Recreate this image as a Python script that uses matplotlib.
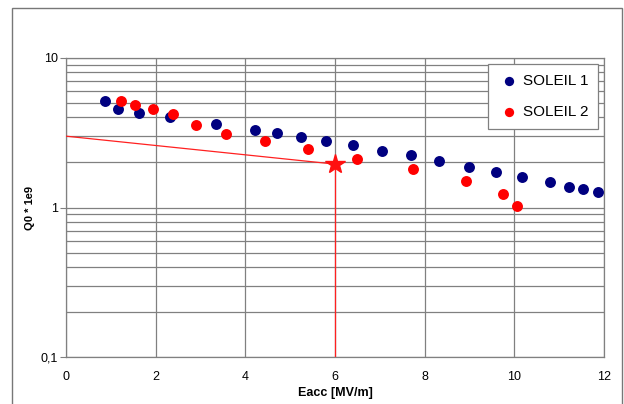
import numpy as np
import matplotlib.pyplot as plt
from matplotlib.patches import Rectangle
from matplotlib.ticker import FixedLocator, FixedFormatter, LogLocator, NullFormatter

plt.rcParams['font.family'] = ['Liberation Sans', 'DejaVu Sans']

# SOLEIL 1
e1 = [0.87, 1.15, 1.63, 2.33, 3.34, 4.21, 4.71, 5.24, 5.81, 6.40,
      7.05, 7.69, 8.32, 8.99, 9.59, 10.17, 10.80, 11.21, 11.53, 11.86]
q1 = [5.16, 4.58, 4.26, 4.01, 3.64, 3.28, 3.13, 2.95, 2.77, 2.62,
      2.39, 2.23, 2.06, 1.88, 1.74, 1.61, 1.47, 1.37, 1.33, 1.26]
# SOLEIL 2
e2 = [1.23, 1.54, 1.93, 2.39, 2.89, 3.57, 4.43, 5.40, 6.48, 7.75,
      8.92, 9.75, 10.05]
q2 = [5.16, 4.83, 4.54, 4.20, 3.55, 3.10, 2.79, 2.45, 2.10, 1.81,
      1.51, 1.24, 1.02]
# spec point
line_x = [0, 6]
line_y = [3.0, 1.95]
star_x = 6
star_y = 1.95

xticks = [0, 2, 4, 6, 8, 10, 12]
yticks = [0.1, 1, 10]
ylabels = ['0,1', '1', '10']

fig = plt.figure(figsize=(6.24, 4.04), dpi=100)
# outer frame
fig.patches.append(Rectangle((12/624, -0.05), 610/624, 1.05 - 8/404, transform=fig.transFigure,
                             fill=False, edgecolor='#777777', linewidth=1.0))
ax = fig.add_axes([66/624, 1 - 357/404, 538/624, 299/404])

ax.set_yscale('log')
ax.set_xlim(0, 12)
ax.set_ylim(0.1, 10)

ax.grid(True, which='major', axis='x', color='#808080', linewidth=0.9)
ax.grid(True, which='both', axis='y', color='#808080', linewidth=0.9)
ax.set_axisbelow(True)

ax.plot(line_x, line_y, color='#ff2020', linewidth=0.9, zorder=3)
ax.plot([star_x, star_x], [star_y, 0.1], color='#ff2020', linewidth=0.9, zorder=3)
ax.scatter(e1, q1, s=62, color='#000080', linewidths=0, zorder=4, label='SOLEIL 1')
ax.scatter(e2, q2, s=62, color='#ff0000', linewidths=0, zorder=4, label='SOLEIL 2')
ax.plot(star_x, star_y, marker='*', markersize=15, color='#ff1010', linestyle='none', zorder=5)

ax.set_xticks(xticks)
ax.yaxis.set_major_locator(FixedLocator(yticks))
ax.yaxis.set_major_formatter(FixedFormatter(ylabels))
ax.yaxis.set_minor_locator(LogLocator(base=10, subs=np.arange(2, 10)))
ax.yaxis.set_minor_formatter(NullFormatter())
ax.tick_params(axis='y', which='major', length=4, color='#808080', labelsize=9, pad=2)
ax.tick_params(axis='y', which='minor', length=0)
ax.tick_params(axis='x', length=0, labelsize=9, pad=10)

for s in ax.spines.values():
    s.set_color('#808080')
    s.set_linewidth(0.9)

ax.set_xlabel('Eacc [MV/m]', fontsize=9, fontweight='bold', labelpad=3)
ax.set_ylabel('Q0 * 1e9', fontsize=8, fontweight='bold', labelpad=4)

leg = ax.legend(loc='upper right', bbox_to_anchor=(0.989, 0.980), fontsize=11,
                frameon=True, fancybox=False, edgecolor='#808080', framealpha=1,
                labelspacing=1.15, handletextpad=0.2, handlelength=1.4,
                borderpad=0.65, borderaxespad=0, markerscale=0.85)
leg.get_frame().set_linewidth(0.9)

plt.savefig('out.png')
